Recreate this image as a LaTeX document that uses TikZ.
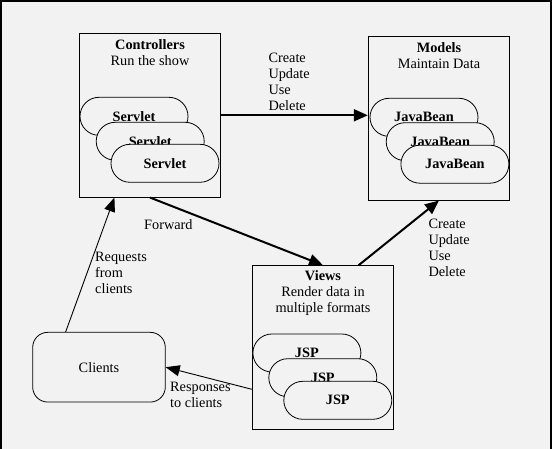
\documentclass[tikz,border=0pt]{standalone}
\usepackage{fontspec}
\setmainfont{Liberation Serif}
\usetikzlibrary{arrows.meta,calc}
\definecolor{bg}{HTML}{F2F2F2}
\tikzset{
  every node/.style={font=\fontsize{14.3}{16}\selectfont, inner sep=0pt},
  box/.style={draw, line width=1pt, fill=bg, minimum width=141.4pt, minimum height=163.5pt},
  pill/.style={draw, line width=0.8pt, fill=bg, rounded corners=19pt, minimum width=108pt, minimum height=38pt, font=\fontsize{14.3}{16}\selectfont\bfseries},
  clientbox/.style={draw, line width=0.8pt, fill=bg, rounded corners=15pt, minimum width=132.6pt, minimum height=69.7pt},
  title/.style={align=center},
  lbl/.style={align=left, anchor=west},
  bigarrow/.style={line width=2pt, -{Triangle[length=14pt,width=12pt]}},
  smallarrow/.style={line width=0.9pt, -{Triangle[length=14pt,width=11pt]}}
}
\begin{document}
\begin{tikzpicture}[x=1pt,y=-1pt]
\useasboundingbox (0,0) rectangle (552,449);
\fill[bg] (0,0) rectangle (552,449);
\draw[line width=1.5pt] (1,460) -- (1,1) -- (551,1) -- (551,460);

% boxes
\node[box] (ctrl) at (150,115.3) {};
\node[box] (models) at (439,118.3) {};
\node[box] (views) at (323,347.5) {};
\node[clientbox] (clients) at (99,367.2) {Clients};

% titles
\node[title] (ctrlt) at (150,53) {\textbf{Controllers}\\Run the show};
\node[title] (modelst) at (439,56) {\textbf{Models}\\Maintain Data};
\node[title] (viewst) at (323,293) {\textbf{Views}\\Render data in\\multiple formats};

% pills
\node[pill] (s1) at (134,116.3) {Servlet};
\node[pill] (s2) at (150.2,141.3) {Servlet};
\node[pill] (s3) at (165,163.3) {Servlet};
\node[pill] (j1) at (424,117.3) {JavaBean};
\node[pill] (j2) at (440.2,141.7) {JavaBean};
\node[pill] (j3) at (454.9,164.2) {JavaBean};
\node[pill] (p1) at (306.9,353) {JSP};
\node[pill] (p2) at (322.8,377.7) {JSP};
\node[pill] (p3) at (337.8,400.3) {JSP};

% connectors
\draw[bigarrow] (ctrl.east) -- (models.west |- ctrl.east);
\draw[bigarrow] (ctrl.south) -- (views.north);
\draw[bigarrow] ($(views.north west)!0.75!(views.north east)$) -- (models.south);
\draw[smallarrow] ($(clients.north west)!0.25!(clients.north east)$) -- ($(ctrl.south west)!0.25!(ctrl.south east)$);
\draw[smallarrow] ($(views.north west)!0.754!(views.south west)$) -- (clients.east);

% labels
\node[lbl] (l1) at (268.3,82.2) {Create\\Update\\Use\\Delete};
\node[lbl] (l2) at (428.3,248) {Create\\Update\\Use\\Delete};
\node[lbl] (l3) at (144,225) {Forward};
\node[lbl] (l4) at (95,272.5) {Requests\\from\\clients};
\node[lbl] (l5) at (170,395) {Responses\\to clients};
\end{tikzpicture}
\end{document}
